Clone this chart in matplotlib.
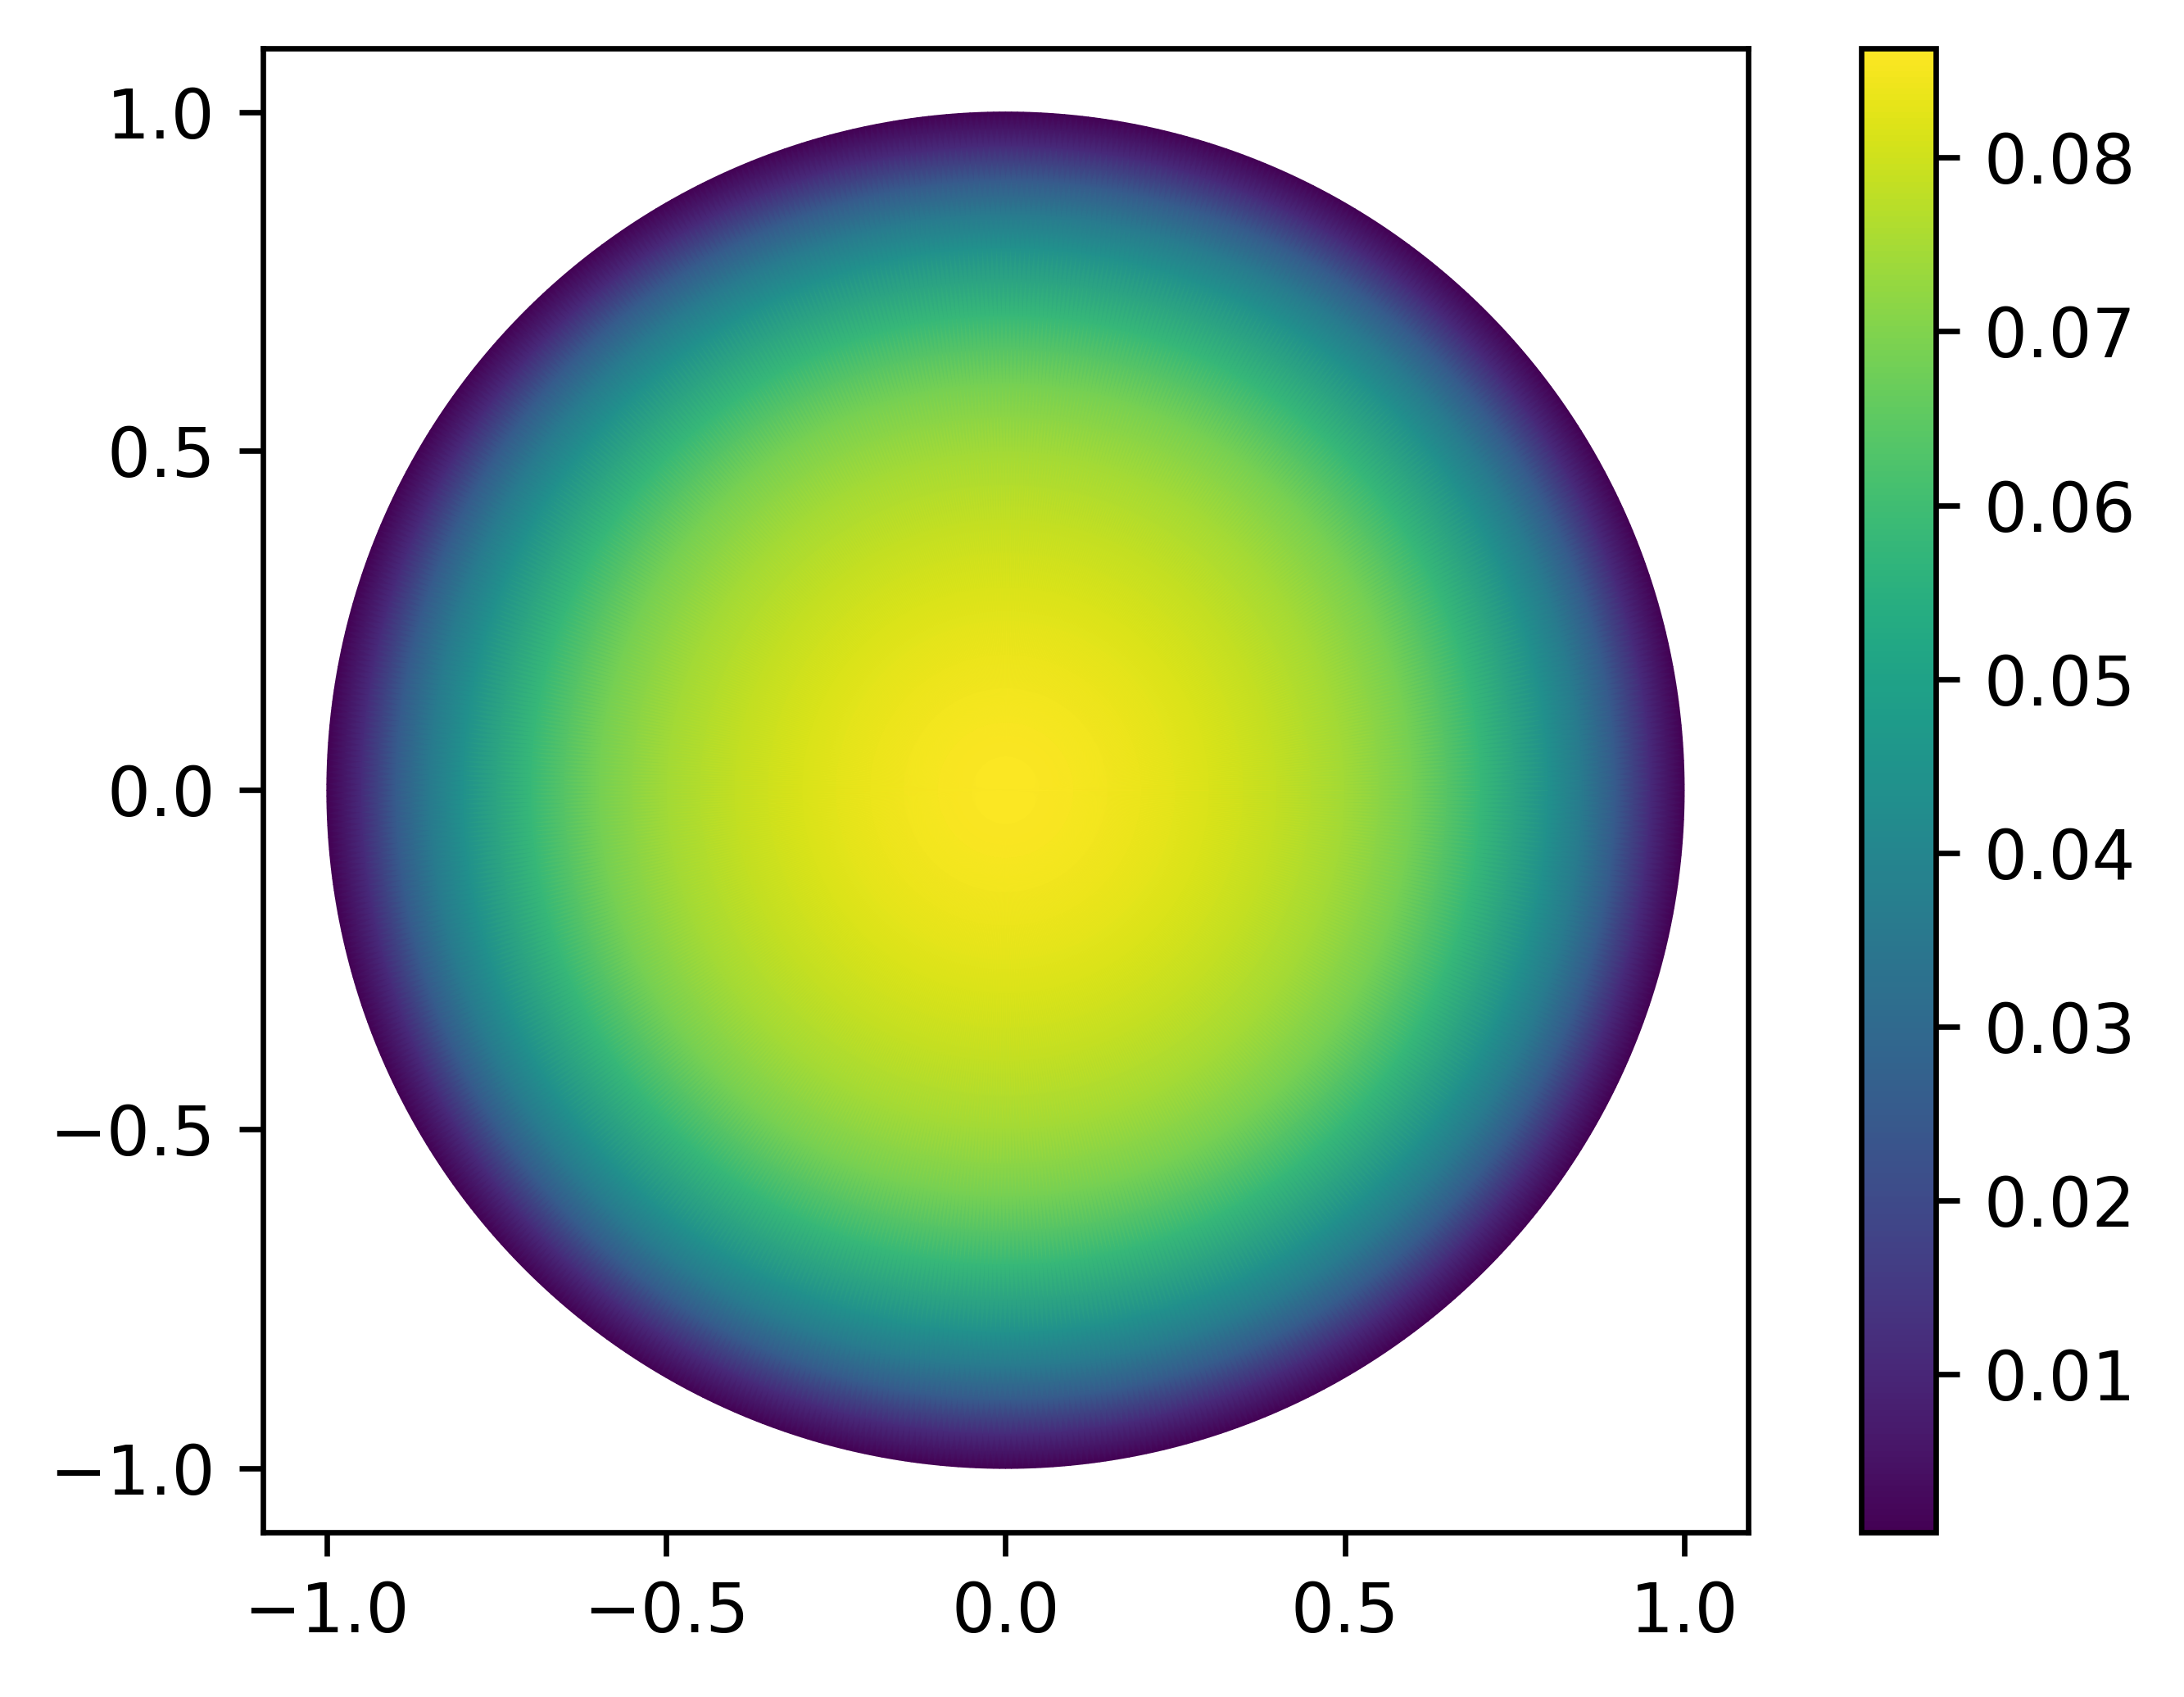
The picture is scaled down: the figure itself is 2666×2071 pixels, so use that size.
import numpy as np
import matplotlib
matplotlib.use("Agg")
import matplotlib.pyplot as plt

# radial profile of the field (value vs distance from centre)
radius = [0.0, 0.1, 0.2, 0.3, 0.4, 0.5, 0.6, 0.7, 0.8, 0.85, 0.9, 0.95, 1.0]
value = [0.0863, 0.0855, 0.0837, 0.0816, 0.0786, 0.0743, 0.0684, 0.0581,
         0.0436, 0.0359, 0.0248, 0.0111, 0.0009]
cbar_ticks = [0.01, 0.02, 0.03, 0.04, 0.05, 0.06, 0.07, 0.08]

# polar mesh so the library shades between the read radii
theta = np.linspace(0, 2 * np.pi, 721)
R, T = np.meshgrid(radius, theta)
C, _ = np.meshgrid(value, theta)
X = R * np.cos(T)
Y = R * np.sin(T)

fig = plt.figure(figsize=(2666 / 600, 2071 / 600), dpi=600)
ax = fig.add_axes([0.1204, 0.0971, 0.680, 0.8745])
cax = fig.add_axes([0.8522, 0.0971, 0.0341, 0.8745])

mesh = ax.pcolormesh(X, Y, C, cmap="viridis", shading="gouraud",
                     vmin=min(value), vmax=max(value))
ax.set_xlim(-1.094, 1.094)
ax.set_ylim(-1.094, 1.094)
ax.set_xticks([-1.0, -0.5, 0.0, 0.5, 1.0])
ax.set_yticks([-1.0, -0.5, 0.0, 0.5, 1.0])

cb = fig.colorbar(mesh, cax=cax)
cb.set_ticks(cbar_ticks)

fig.savefig("out.png", dpi=600)
